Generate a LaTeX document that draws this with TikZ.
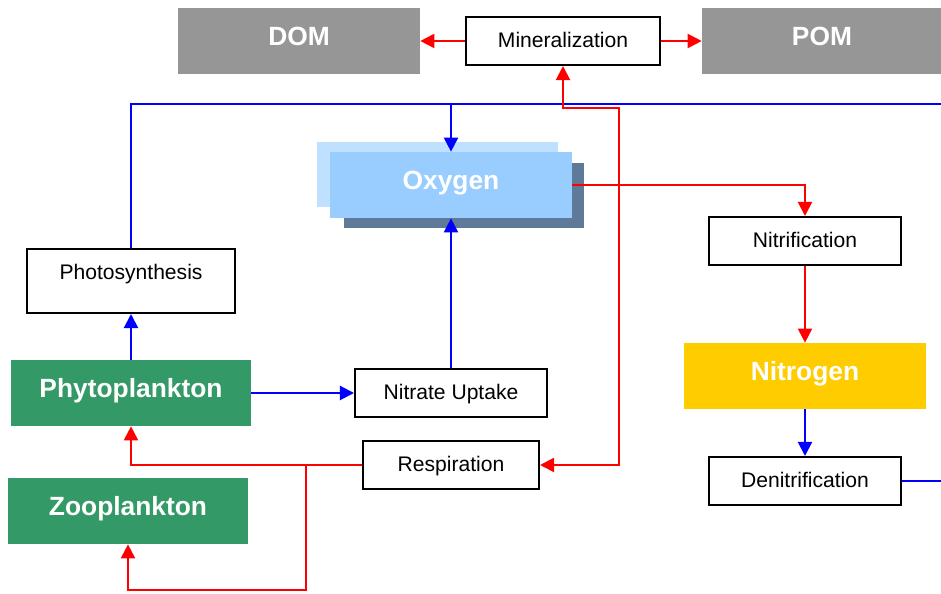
\documentclass[tikz,border=0pt]{standalone}
\usepackage{fontspec}
\setmainfont{Liberation Sans}
\usetikzlibrary{arrows.meta}
\definecolor{pomgray}{RGB}{150,150,150}
\definecolor{oxyback}{RGB}{192,224,255}
\definecolor{oxymain}{RGB}{153,204,255}
\definecolor{oxyshadow}{RGB}{95,122,153}
\definecolor{planktongreen}{RGB}{51,153,102}
\definecolor{nitroyellow}{RGB}{255,204,0}
\begin{document}
\begin{tikzpicture}[x=0.02cm,y=-0.02cm,
  >={Triangle[length=8pt,width=8pt]},
  flow/.style={line width=1.15pt},
  proc/.style={draw=black,line width=1.15pt,fill=white,minimum width=3.84cm,minimum height=0.96cm,
    font=\fontsize{12}{14}\selectfont,text height=9pt,text depth=2pt},
  pool/.style={minimum width=4.8cm,minimum height=1.32cm,text=white,
    font=\fontsize{15}{18}\selectfont\bfseries,text height=8pt,text depth=3pt}]
\useasboundingbox (0,0) rectangle (941,594);
\node[pool,fill=pomgray,minimum width=4.84cm] (dom) at (299,41) {DOM};
\node[pool,fill=pomgray] (pom) at (822,41) {POM};
\node[proc,minimum width=3.88cm] (mineral) at (563,41) {Mineralization};
\fill[oxyback] (317,142) rectangle (558,207);
\fill[oxyshadow] (344,163) rectangle (584,228);
\node[pool,fill=oxymain,minimum width=4.84cm] (oxygen) at (451,185) {Oxygen};
\node[proc] (nitrif) at (805,241) {Nitrification};
\node[pool,fill=nitroyellow,minimum width=4.84cm] (nitrogen) at (805,376) {Nitrogen};
\node[proc] (denitrif) at (805,481) {Denitrification};
\node[proc,minimum width=4.16cm,minimum height=1.28cm,text height=8.6pt,text depth=10pt] (photo) at (131,281) {Photosynthesis};
\node[pool,fill=planktongreen] (phyto) at (131,393) {Phytoplankton};
\node[proc] (nitrate) at (451,393) {Nitrate Uptake};
\node[proc,minimum width=3.52cm] (resp) at (451,465) {Respiration};
\node[pool,fill=planktongreen] (zoo) at (128,511) {Zooplankton};
\coordinate (topright) at (941,104);
\coordinate (redturn) at (619,108);
\coordinate (denright) at (941,481);
\coordinate (zfork) at (306,465);
\coordinate (zbottom) at (306,590);
\draw[flow,red,->] (mineral.west) -- (dom.east);
\draw[flow,red,->] (mineral.east) -- (pom.west);
\draw[flow,blue] (photo.north) |- (topright);
\draw[flow,blue,->] (oxygen.north |- topright) -- (oxygen.north);
\draw[flow,red,<->] (mineral.south) |- (redturn) |- (resp.east);
\draw[flow,red,->] (oxygen.east) -| (nitrif.north);
\draw[flow,red,->] (nitrif.south) -- (nitrogen.north);
\draw[flow,blue,->] (nitrogen.south) -- (denitrif.north);
\draw[flow,blue] (denitrif.east) -- (denright);
\draw[flow,blue,->] (phyto.north) -- (photo.south);
\draw[flow,blue,->] (phyto.east) -- (nitrate.west);
\draw[flow,blue,->] (nitrate.north) -- (oxygen.south);
\draw[flow,red,->] (resp.west) -| (phyto.south);
\draw[flow,red,->] (zfork) -- (zbottom) -| (zoo.south);
\end{tikzpicture}
\end{document}
